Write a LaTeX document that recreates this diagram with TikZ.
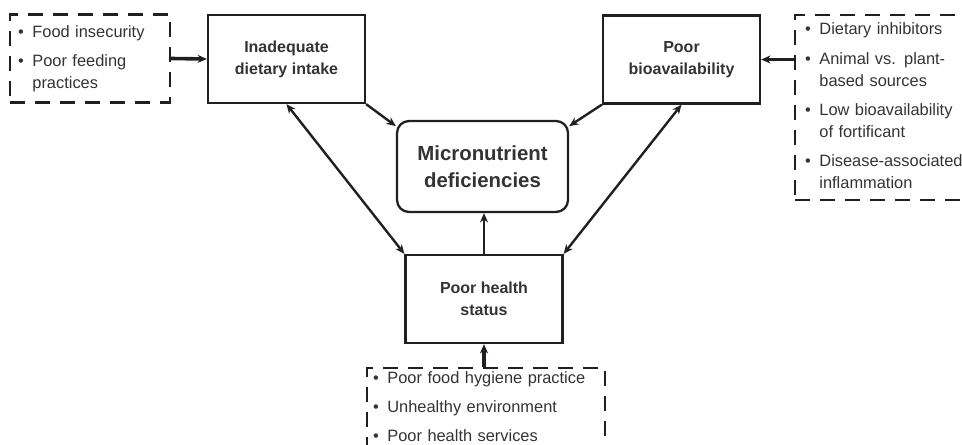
\documentclass[tikz,border=0pt]{standalone}
\usepackage{fontspec}
\setmainfont{Liberation Sans}
\usetikzlibrary{arrows.meta}
\definecolor{linegray}{HTML}{231F20}
\definecolor{txtgray}{HTML}{333333}

\begin{document}
\begin{tikzpicture}[
    x=0.75pt,
    y=-0.75pt,
    factor/.style={
      draw=linegray,
      line width=1.7pt,
      minimum width=117.75pt,
      minimum height=66pt,
      align=center,
      text=txtgray,
      font=\bfseries\fontsize{12}{16.5}\selectfont
    },
    outcome/.style={
      factor,
      rounded corners=9pt,
      minimum width=128.25pt,
      minimum height=68.25pt,
      font=\bfseries\fontsize{15.3}{20.25}\selectfont
    },
    causes/.style={
      draw=linegray,
      line width=1.6pt,
      dash pattern=on 11.25pt off 7.5pt,
      inner ysep=0pt,
      text=txtgray,
      font=\fontsize{12.3}{16.5}\selectfont
    },
    link/.style={
      draw=linegray,
      line width=1.8pt,
      -{Stealth[length=7pt,width=6pt]}
    },
    biglink/.style={
      link,
      line width=2.7pt
    }
  ]
    \useasboundingbox (0, 0) rectangle (962, 445);

    \node[factor] (intake) at (286.5, 59) {Inadequate\\dietary intake};
    \node[factor] (bio) at (681.5, 59.5) {Poor\\bioavailability};
    \node[outcome] (micro) at (482.5, 166.5) {Micronutrient\\deficiencies};
    \node[factor] (health) at (484, 299) {Poor health\\status};

    \node[causes, minimum width=120pt, minimum height=66pt,
      inner xsep=6pt, text width=108pt] (feed) at (90, 58.5) {%
      \begin{tabular}{@{}l@{\hspace{6.5pt}}l@{}}
        • & Food insecurity\\[5.5pt]
        • & Poor feeding\\
          & practices
      \end{tabular}};
    \node[causes, minimum width=150pt, minimum height=138.75pt,
      inner xsep=7.5pt, text width=135pt] (biocause) at (895, 107.5) {%
      \begin{tabular}{@{}l@{\hspace{6.5pt}}l@{}}
        • & Dietary inhibitors\\[5.5pt]
        • & Animal vs. plant-\\
          & based sources\\[5.5pt]
        • & Low bioavailability\\
          & of fortificant\\[5.5pt]
        • & Disease-associated\\
          & inflammation
      \end{tabular}};
    \node[causes, minimum width=178.5pt, minimum height=60pt,
      inner xsep=4.5pt, text width=169.5pt] (healthcause) at (486, 408) {%
      \begin{tabular}{@{}l@{\hspace{6.5pt}}l@{}}
        • & Poor food hygiene practice\\[5pt]
        • & Unhealthy environment\\[5pt]
        • & Poor health services
      \end{tabular}};

    \draw[biglink] (feed.east) to (intake.west);
    \draw[biglink] (biocause.west |- bio.east) to (bio.east);
    \draw[biglink] (health.south |- healthcause.north) to (health.south);

    \draw[link] (intake.south east) to (micro.155);
    \draw[link] (bio.south west) to (micro.25);
    \draw[link] (health.north) to (health.north |- micro.south);
    \draw[link, {Stealth[length=7pt,width=6pt]}-{Stealth[length=7pt,width=6pt]}]
      (intake.south) to (health.north west);
    \draw[link, {Stealth[length=7pt,width=6pt]}-{Stealth[length=7pt,width=6pt]}]
      (bio.south) to (health.north east);
  \end{tikzpicture}
\end{document}
